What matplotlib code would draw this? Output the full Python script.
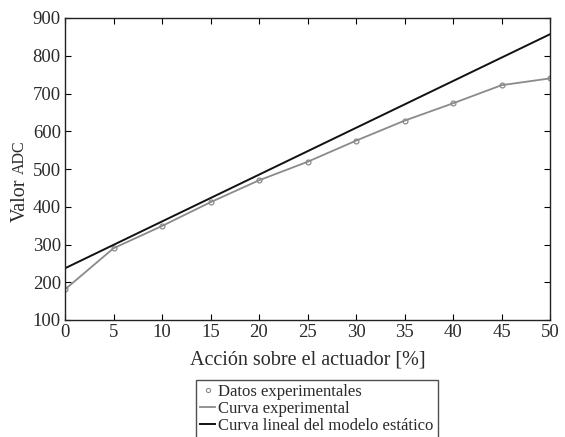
import matplotlib.pyplot as plt
from matplotlib.lines import Line2D

# datos
accion = [0, 5, 10, 15, 20, 25, 30, 35, 40, 45, 50]
valor_adc = [181, 290, 349, 412, 470, 519, 575, 628, 674, 722, 740]
modelo_x = [0, 50]
modelo_y = [237, 857]

plt.rcParams['font.family'] = ['Liberation Serif', 'DejaVu Serif']
txt = '#2b2b2b'

fig = plt.figure(figsize=(5.65, 4.37), dpi=100)
ax = fig.add_axes([65 / 565, 1 - 320 / 437, 485 / 565, 302 / 437])

ax.plot(accion, valor_adc, color='#8a8a8a', lw=1.3)
ax.plot(accion, valor_adc, 'o', ms=3.5, mfc='none', mec='#8a8a8a', mew=0.9)
ax.plot(modelo_x, modelo_y, color='#111111', lw=1.4)

ax.set_xlim(0, 50)
ax.set_ylim(100, 900)
ax.set_xticks(range(0, 51, 5))
ax.set_yticks(range(100, 901, 100))
ax.tick_params(direction='in', top=True, right=True, labelsize=13.5, length=4, pad=3,
               labelcolor=txt)
for s in ax.spines.values():
    s.set_linewidth(1.0)
    s.set_color('#222222')

ax.set_xlabel('Acción sobre el actuador [%]', fontsize=14.5, labelpad=7, color=txt)

# etiqueta y con "ADC" en versalitas (mas pequena)
t1 = fig.text(20 / 565, 1 - 222 / 437, 'Valor', rotation=90, ha='center', va='bottom',
              fontsize=14.5, color=txt)
r = fig.canvas.get_renderer()
h = t1.get_window_extent(r).height
fig.text(20 / 565, 1 - 222 / 437 + (h + 4) / 437, 'ADC', rotation=90, ha='center',
         va='bottom', fontsize=11.5, color=txt)

handles = [
    Line2D([], [], ls='none', marker='o', ms=3, mfc='none', mec='#8a8a8a', mew=0.8),
    Line2D([], [], color='#8a8a8a', lw=1.3),
    Line2D([], [], color='#111111', lw=1.4),
]
labels = ['Datos experimentales', 'Curva experimental', 'Curva lineal del modelo estático']
leg = fig.legend(handles, labels, loc='upper left', bbox_to_anchor=(196 / 565, 1 - 380 / 437),
                 fontsize=12, frameon=True, fancybox=False, edgecolor='#222222',
                 handlelength=0.9, handletextpad=0.2, labelspacing=0.05,
                 borderpad=0.25, borderaxespad=0)
leg.get_frame().set_linewidth(1.0)
for t in leg.get_texts():
    t.set_color(txt)

fig.savefig('out.png', dpi=100)
